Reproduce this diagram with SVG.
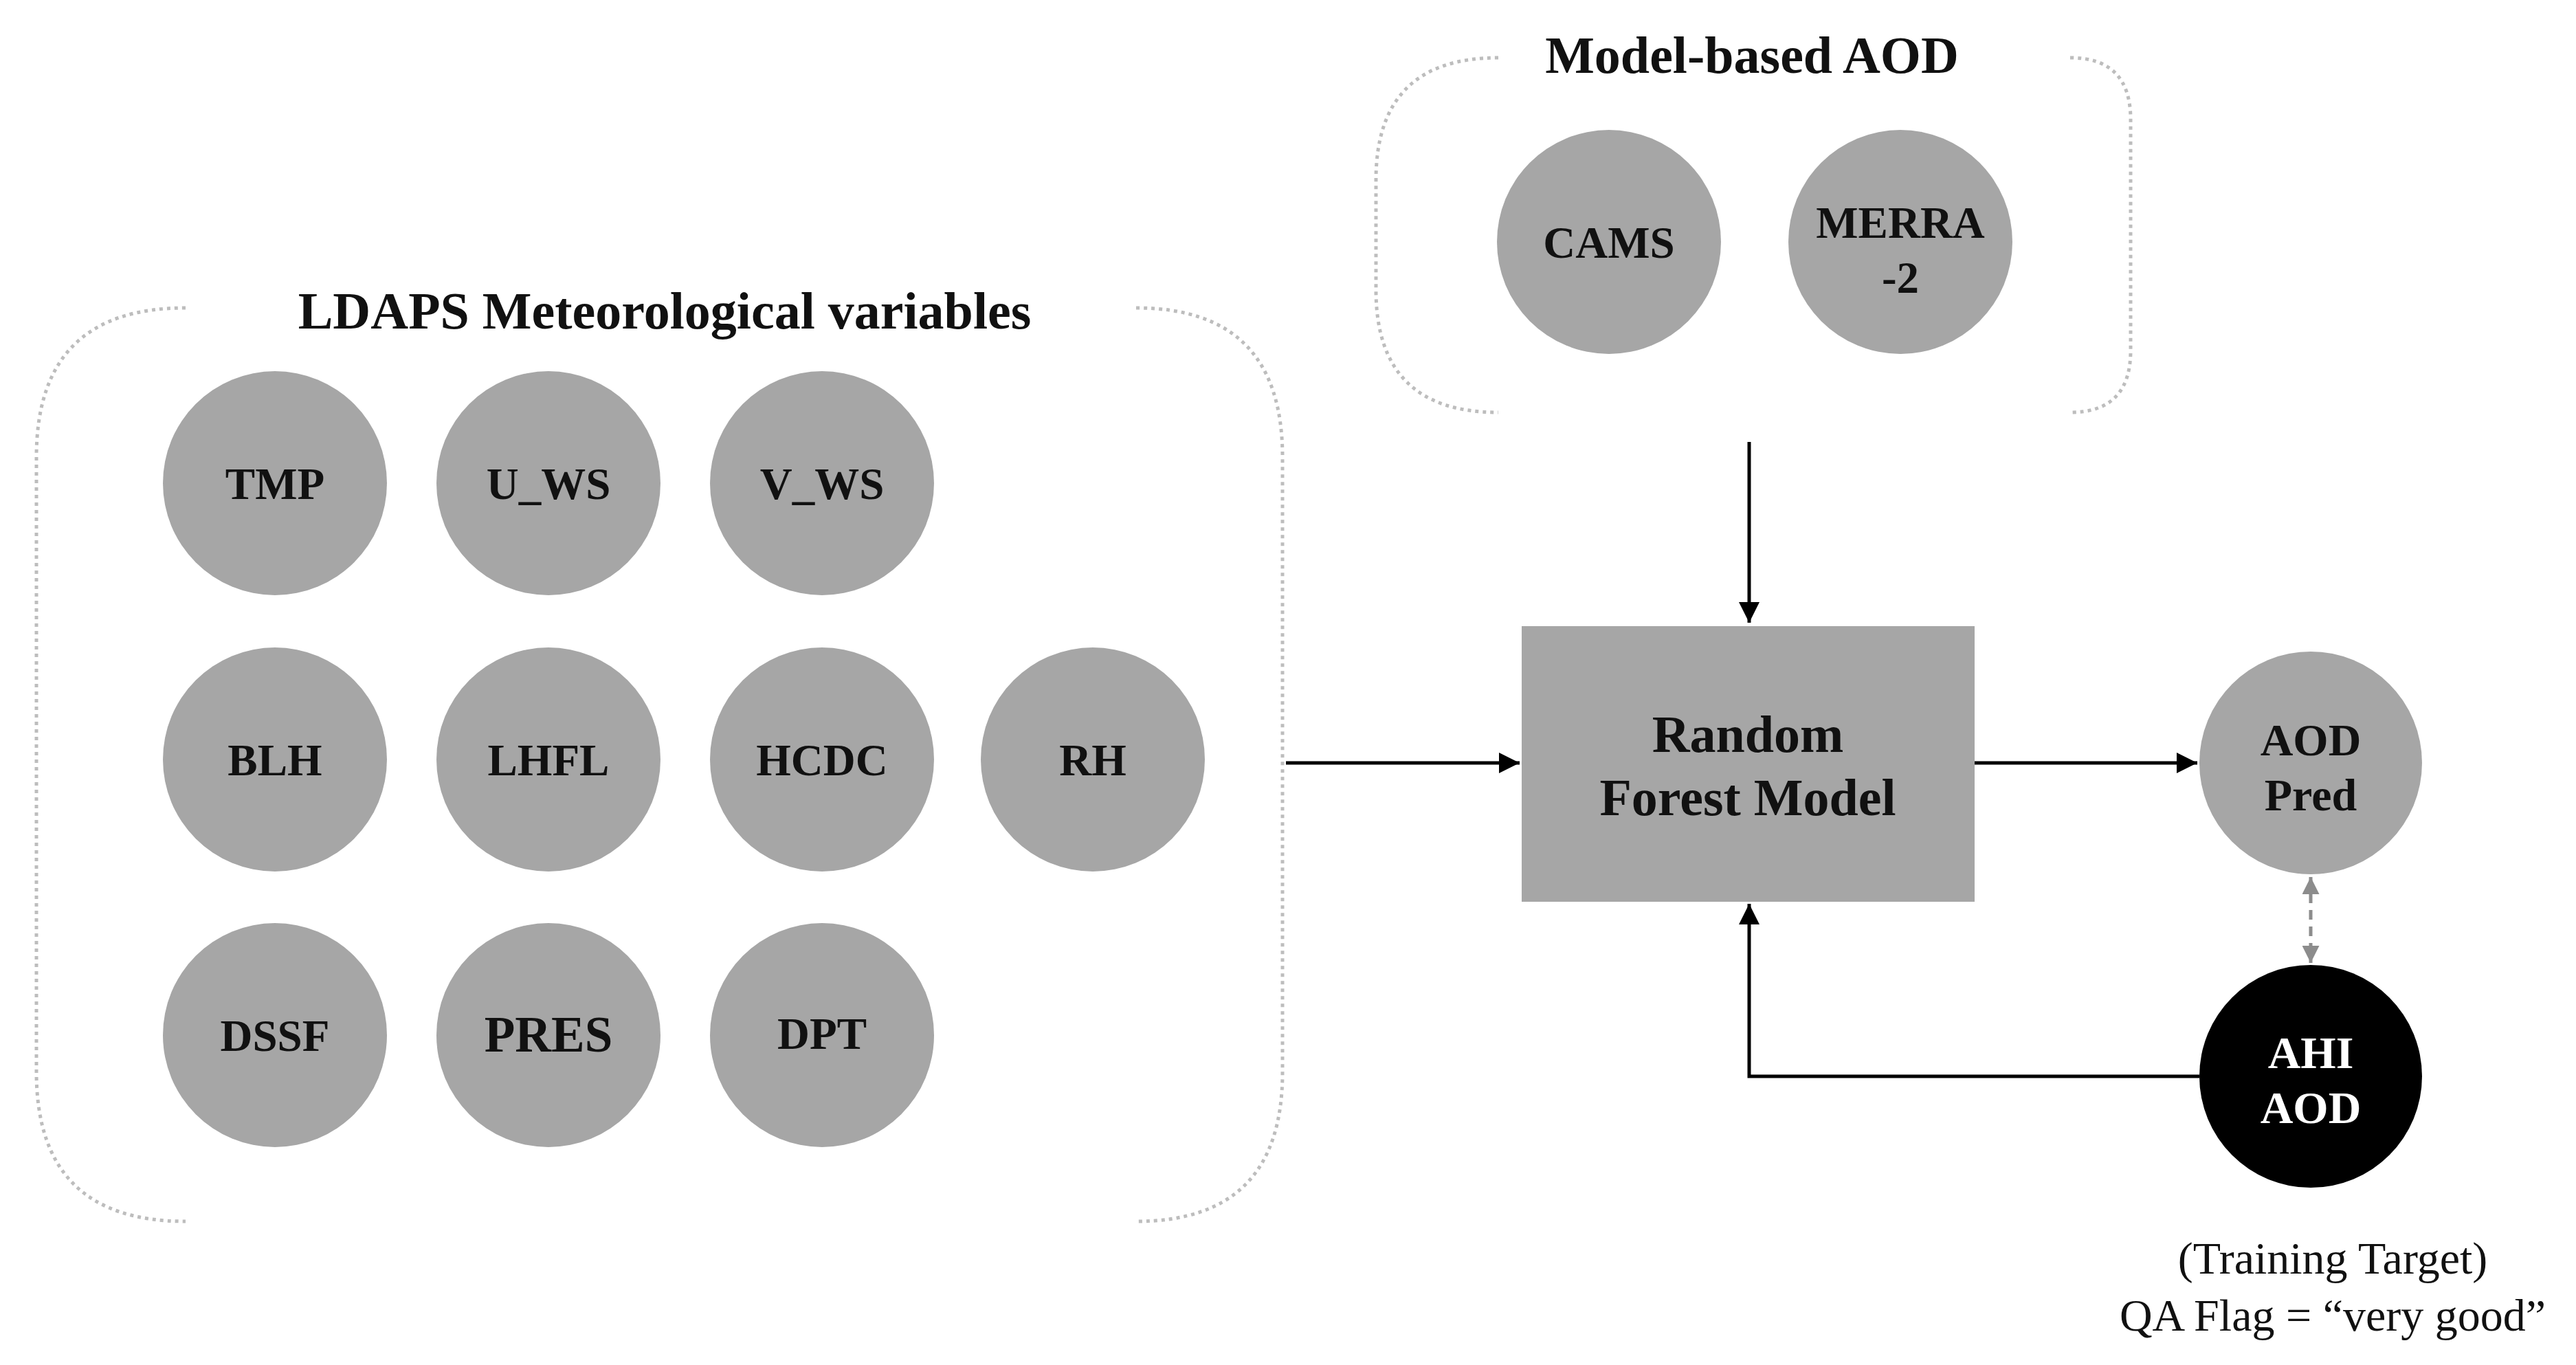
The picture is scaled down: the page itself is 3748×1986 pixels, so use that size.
<svg xmlns="http://www.w3.org/2000/svg" width="3748" height="1986" viewBox="0 0 3748 1986">
<defs>
<style>
.n{fill:#a6a6a6}
.t{font-family:"Liberation Serif",serif;font-weight:bold;font-size:65px;text-anchor:middle;fill:#111}
.h{font-family:"Liberation Serif",serif;font-weight:bold;font-size:76px;text-anchor:middle;fill:#111}
.br{fill:none;stroke:#bdbdbd;stroke-width:5;stroke-dasharray:5 6}
.c{fill:none;stroke:#000;stroke-width:5}
</style>
<marker id="a" viewBox="0 0 10 10" refX="10" refY="5" markerWidth="6" markerHeight="6" orient="auto-start-reverse"><path d="M0,0L10,5L0,10z" fill="#000"/></marker>
<marker id="g" viewBox="0 0 10 10" refX="10" refY="5" markerWidth="5" markerHeight="5" orient="auto-start-reverse"><path d="M0,0L10,5L0,10z" fill="#8c8c8c"/></marker>
</defs>
<rect width="3748" height="1986" fill="#fff"/>
<g id="ldaps-group">
<path class="br" d="M270,448 Q53,448 53,665 V1560 Q53,1777 270,1777"/>
<path class="br" d="M1653,448 Q1866,448 1866,665 V1560 Q1866,1777 1653,1777"/>
<text class="h" x="967" y="478">LDAPS Meteorological variables</text>
</g>
<g id="tmp"><circle class="n" cx="400" cy="703" r="163"/><text class="t" x="400" y="726">TMP</text></g>
<g id="u_ws"><circle class="n" cx="798" cy="703" r="163"/><text class="t" x="798" y="726">U_WS</text></g>
<g id="v_ws"><circle class="n" cx="1196" cy="703" r="163"/><text class="t" x="1196" y="726">V_WS</text></g>
<g id="blh"><circle class="n" cx="400" cy="1105" r="163"/><text class="t" x="400" y="1128">BLH</text></g>
<g id="lhfl"><circle class="n" cx="798" cy="1105" r="163"/><text class="t" x="798" y="1128">LHFL</text></g>
<g id="hcdc"><circle class="n" cx="1196" cy="1105" r="163"/><text class="t" x="1196" y="1128">HCDC</text></g>
<g id="rh"><circle class="n" cx="1590" cy="1105" r="163"/><text class="t" x="1590" y="1128">RH</text></g>
<g id="dssf"><circle class="n" cx="400" cy="1506" r="163"/><text class="t" x="400" y="1529">DSSF</text></g>
<g id="pres"><circle class="n" cx="798" cy="1506" r="163"/><text class="t" x="798" y="1530" style="font-size:73px">PRES</text></g>
<g id="dpt"><circle class="n" cx="1196" cy="1506" r="163"/><text class="t" x="1196" y="1526">DPT</text></g>
<g id="model-group">
<path class="br" d="M2180,84 Q2002,84 2002,262 V422 Q2002,600 2180,600"/>
<path class="br" d="M3012,84 Q3100,84 3100,174 V510 Q3100,600 3012,600"/>
<text class="h" x="2549" y="106">Model-based AOD</text>
</g>
<g id="cams"><circle class="n" cx="2341" cy="352" r="163"/><text class="t" x="2341" y="375">CAMS</text></g>
<g id="merra"><circle class="n" cx="2765" cy="352" r="163"/><text class="t" x="2765" y="346">MERRA</text><text class="t" x="2765" y="426">-2</text></g>
<g id="rf"><rect class="n" x="2214" y="911" width="659" height="401"/><text class="h" x="2543" y="1094">Random</text><text class="h" x="2543" y="1186">Forest Model</text></g>
<g id="aodpred"><circle class="n" cx="3362" cy="1110" r="162"/><text class="h" x="3362" y="1099" style="font-size:66px">AOD</text><text class="h" x="3362" y="1179" style="font-size:66px">Pred</text></g>
<g id="ahi"><circle cx="3362" cy="1566" r="162" fill="#000"/><text class="h" x="3362" y="1554" style="font-size:66px;fill:#fff">AHI</text><text class="h" x="3362" y="1634" style="font-size:66px;fill:#fff">AOD</text></g>
<g id="note" font-family="Liberation Serif,serif" font-size="66" text-anchor="middle" fill="#111">
<text x="3394" y="1853">(Training Target)</text>
<text x="3394" y="1936">QA Flag = “very good”</text>
</g>
<g id="connectors">
<path class="c" d="M2545,643 V906" marker-end="url(#a)"/>
<path class="c" d="M1871,1110 H2211" marker-end="url(#a)"/>
<path class="c" d="M2873,1110 H3197" marker-end="url(#a)"/>
<path class="c" d="M3200,1566 H2545 V1315" marker-end="url(#a)"/>
<path d="M3362,1276 V1401" fill="none" stroke="#8c8c8c" stroke-width="5" stroke-dasharray="14 10" marker-start="url(#g)" marker-end="url(#g)"/>
</g>
</svg>
